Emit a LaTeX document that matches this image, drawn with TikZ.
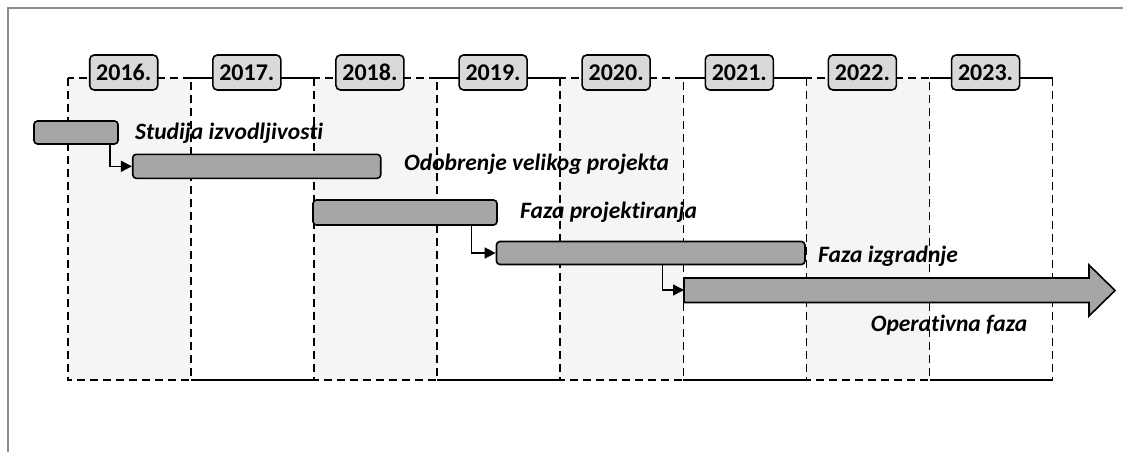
\documentclass[tikz,border=0pt]{standalone}
\usepackage{fontspec}
\setmainfont{Carlito}[Ligatures=NoCommon]
\usetikzlibrary{arrows.meta}
\definecolor{framegray}{HTML}{8C8C8C}
\definecolor{colshade}{HTML}{F5F5F5}
\definecolor{yearfill}{HTML}{D9D9D9}
\definecolor{barfill}{HTML}{A6A6A6}
\begin{document}
\begin{tikzpicture}[x=1pt,y=-1pt,
  yearbox/.style={draw, rounded corners=4.5pt, fill=yearfill, line width=1.6pt,
    minimum width=68pt, minimum height=35pt, inner sep=0pt,
    font=\fontsize{24}{24}\selectfont\bfseries},
  barbox/.style={draw, rounded corners=3.5pt, fill=barfill, line width=1.6pt, inner sep=0pt},
  phaselabel/.style={anchor=west, inner sep=0pt, font=\fontsize{23.5}{23.5}\selectfont\bfseries\itshape},
  gridline/.style={line width=1.6pt, dash pattern=on 8pt off 5pt},
  solidline/.style={line width=1.6pt},
  conn/.style={line width=1.5pt, -{Triangle[length=11pt,width=11pt]}},
  framelines/.style={framegray, line width=1.6pt}
]
\useasboundingbox (0,0) rectangle (1123,452);
% outer frame (top and left)
\draw[framelines] (8,452) -- (8,8) -- (1123,8);
% columns
\def\xo{67.7}
\def\cw{123.12}
\foreach \i in {0,2,4,6}{
  \filldraw[fill=colshade, gridline] ({\xo+\i*\cw},77.7) rectangle ({\xo+(\i+1)*\cw},380);
}
\foreach \i in {1,3,5,7}{
  \draw[solidline] ({\xo+\i*\cw},77.7) -- ({\xo+(\i+1)*\cw},77.7);
  \draw[solidline] ({\xo+\i*\cw},380) -- ({\xo+(\i+1)*\cw},380);
}
\draw[gridline] ({\xo+8*\cw},77.7) -- ({\xo+8*\cw},380);
% years
\foreach \y [count=\i from 0] in {2016,2017,2018,2019,2020,2021,2022,2023}{
  \node[yearbox] (y\y) at ({\xo+\i*\cw+56},72.5) {\y.};
}
% bars
\node[barbox, minimum width=84pt, minimum height=23pt] (b1) at (76,132.5) {};
\node[barbox, minimum width=248pt, minimum height=24pt] (b2) at (256.7,166.3) {};
\node[barbox, minimum width=184pt, minimum height=25pt] (b3) at (405,212.5) {};
\node[barbox, minimum width=308.5pt, minimum height=23pt] (b4) at (650.7,253) {};
% operational arrow
\coordinate (opstart) at (684,290);
\filldraw[fill=barfill, line width=1.6pt, line join=miter]
  (684,278) -- (1089,278) -- (1089,265) -- (1115,290.5) -- (1089,316) -- (1089,302.5) -- (684,302.5) -- cycle;
% connectors
\draw[conn] ([xshift=-9pt]b1.south east) |- (b2.west);
\draw[conn] ([xshift=-26.5pt]b3.south east) |- (b4.west);
\draw[conn] ([xshift=12pt]b4.south) |- (opstart);
% labels
\node[phaselabel] (l1) at (135,133.3) {Studija izvodljivosti};
\node[phaselabel] (l2) at (404,164.3) {Odobrenje velikog projekta};
\node[phaselabel] (l3) at (520,212.7) {Faza projektiranja};
\node[phaselabel] (l4) at (818,256.7) {Faza izgradnje};
\node[phaselabel] (l5) at (870.6,325) {Operativna faza};
\end{tikzpicture}
\end{document}
